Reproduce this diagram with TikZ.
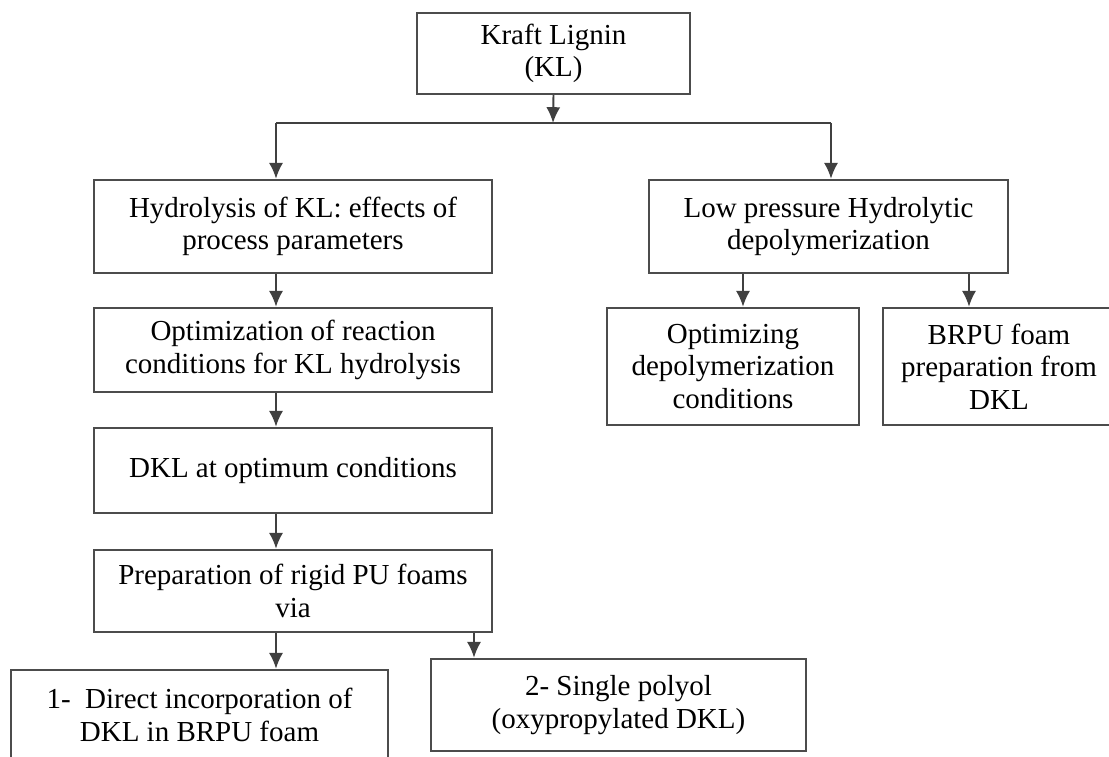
\documentclass[tikz,border=0pt]{standalone}
\usepackage{fontspec}
\setmainfont{Liberation Serif}
\usetikzlibrary{shapes,arrows.meta,positioning}

\begin{document}
\begin{tikzpicture}[x=0.02cm, y=-0.02cm, font=\fontsize{16.5}{18.5}\selectfont]
    % Define styles
    \tikzstyle{stage} = [rectangle, draw=black!70, line width=1.4pt, align=center, inner sep=2pt]
    \tikzstyle{arrow} = [draw=black!75, line width=1.1pt, -{Latex[length=9pt,width=8pt]}]

    \useasboundingbox (0,0) rectangle (1109,757);
    \clip (0,0) rectangle (1109,757);

    % Starting material
    \node [stage, minimum width=5.46cm, minimum height=1.62cm] (kl) at (553.5,53.5) {Kraft Lignin\\(KL)};

    % Hydrolysis route (left column)
    \node [stage, minimum width=7.96cm, minimum height=1.86cm] (hyd) at (293,226.5) {Hydrolysis of KL: effects of\\process parameters};
    \node [stage, minimum width=7.96cm, minimum height=1.68cm] (opt) at (293,350) {Optimization of reaction\\conditions for KL hydrolysis};
    \node [stage, minimum width=7.96cm, minimum height=1.70cm] (dkl) at (293,470.5) {DKL at optimum conditions};
    \node [stage, minimum width=7.96cm, minimum height=1.64cm] (prep) at (293,591) {Preparation of rigid PU foams\\via};
    \node [stage, minimum width=7.54cm, minimum height=1.80cm] (direct) at (199.5,715) {1-\enspace Direct incorporation of\\DKL in BRPU foam};
    \node [stage, minimum width=7.50cm, minimum height=1.84cm] (polyol) at (618.5,705) {2- Single polyol\\(oxypropylated DKL)};

    % Depolymerization route (right side)
    \node [stage, minimum width=7.18cm, minimum height=1.86cm] (lowp) at (828.5,226.5) {Low pressure Hydrolytic\\depolymerization};
    \node [stage, minimum width=5.04cm, minimum height=2.34cm] (optdep) at (733,366.5) {Optimizing\\depolymerization\\conditions};
    \node [stage, minimum width=4.64cm, minimum height=2.34cm] (brpu) at (999,366.5) {BRPU foam\\preparation from\\DKL};

    % Arrow columns
    \coordinate (split) at (553,123);
    \coordinate (lcol) at (276,0);
    \coordinate (rcol) at (831,0);
    \coordinate (vcol) at (474,0);
    \coordinate (dcol) at (743,0);
    \coordinate (fcol) at (969,0);

    % Branching from KL
    \draw [arrow] (kl.south) -- (split);
    \draw [draw=black!75, line width=1.1pt] (lcol |- split) -- (rcol |- split);
    \draw [arrow] (lcol |- split) -- (hyd.north -| lcol);
    \draw [arrow] (rcol |- split) -- (lowp.north -| rcol);

    % Left chain
    \draw [arrow] (hyd.south -| lcol) -- (opt.north -| lcol);
    \draw [arrow] (opt.south -| lcol) -- (dkl.north -| lcol);
    \draw [arrow] (dkl.south -| lcol) -- (prep.north -| lcol);
    \draw [arrow] (prep.south -| lcol) -- (direct.north -| lcol);
    \draw [arrow] (prep.south -| vcol) -- (polyol.north -| vcol);

    % Right chain
    \draw [arrow] (lowp.south -| dcol) -- (optdep.north -| dcol);
    \draw [arrow] (lowp.south -| fcol) -- (brpu.north -| fcol);
\end{tikzpicture}
\end{document}
